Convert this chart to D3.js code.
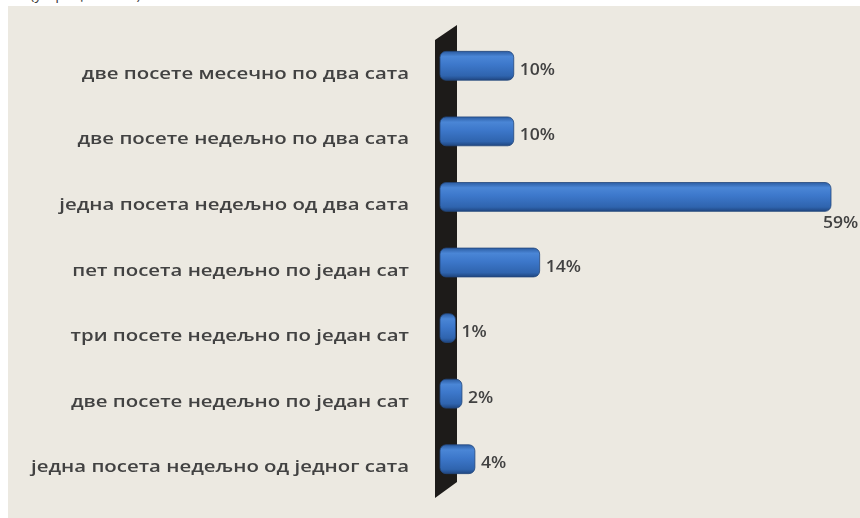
<!DOCTYPE html>
<html>
<head>
<meta charset="utf-8">
<script src="https://cdn.jsdelivr.net/npm/d3@7"></script>
<style>
  html, body { margin: 0; padding: 0; background: #fff; overflow: hidden; }
  text { font-family: "Open Sans", "Noto Sans", sans-serif; }
</style>
</head>
<body>
<div id="chart"></div>
<script>
// categories, top to bottom
var categories = [
  "две посете месечно по два сата",
  "две посете недељно по два сата",
  "једна посета недељно од два сата",
  "пет посета недељно по један сат",
  "три посете недељно по један сат",
  "две посете недељно по један сат",
  "једна посета недељно од једног сата"
];
var values = [10, 10, 59, 14, 1, 2, 4];
var valueLabels = ["10%", "10%", "59%", "14%", "1%", "2%", "4%"];

var width = 860, height = 518;

var svg = d3.select("#chart")
  .append("svg")
    .attr("width", width)
    .attr("height", height);

var defs = svg.append("defs");
var grad = defs.append("linearGradient")
  .attr("id", "barGrad")
  .attr("x1", 0).attr("y1", 0).attr("x2", 0).attr("y2", 1);
grad.append("stop").attr("offset", "0%").attr("stop-color", "#2c5da3");
grad.append("stop").attr("offset", "18%").attr("stop-color", "#4a86d6");
grad.append("stop").attr("offset", "45%").attr("stop-color", "#3d78cb");
grad.append("stop").attr("offset", "85%").attr("stop-color", "#2f64ae");
grad.append("stop").attr("offset", "100%").attr("stop-color", "#1f4680");

var blur = defs.append("filter").attr("id", "soft");
blur.append("feGaussianBlur").attr("stdDeviation", 0.35);

// background panel
svg.append("rect")
  .attr("x", 8).attr("y", 6)
  .attr("width", width - 8).attr("height", height - 6)
  .attr("fill", "#ece9e1");

// title line above, cut off at the top edge like the reference
svg.append("text")
  .attr("x", 30).attr("y", -1)
  .attr("font-size", 15)
  .attr("fill", "#444")
  .text("(у процентима)");

var y = d3.scaleBand()
  .domain(categories)
  .range([33, 492])
  .paddingInner(0.56)
  .paddingOuter(0.28);

var x = d3.scaleLinear()
  .domain([0, 59])
  .range([449, 831]);

// dark 3D wall behind the bars
svg.append("path")
  .attr("d", "M435,40 L457,25 L457,482 L435,498 Z")
  .attr("fill", "#1d1b19");

svg.selectAll(".bar")
  .data(values)
  .enter()
  .append("rect")
    .attr("class", "bar")
    .attr("x", 440)
    .attr("y", function(d, i) { return y(categories[i]); })
    .attr("width", function(d) { return x(d) - 440; })
    .attr("height", y.bandwidth())
    .attr("rx", 6)
    .attr("fill", "url(#barGrad)")
    .attr("stroke", "#23487c")
    .attr("stroke-width", 0.8);

// category labels
svg.selectAll(".cat")
  .data(categories)
  .enter()
  .append("text")
    .attr("class", "cat")
    .attr("text-anchor", "end")
    .attr("transform", function(d) {
      return "translate(409," + (y(d) + y.bandwidth() / 2 + 13) + ") scale(1.2,1)";
    })
    .attr("font-size", 17)
    .attr("font-weight", 600)
    .attr("fill", "#424242")
    .attr("filter", "url(#soft)")
    .text(function(d) { return d; });

// value labels
var maxV = d3.max(values);
svg.selectAll(".val")
  .data(values)
  .enter()
  .append("text")
    .attr("class", "val")
    .attr("transform", function(d, i) {
      var cy = y(categories[i]) + y.bandwidth() / 2;
      if (d === maxV) return "translate(" + (x(d) - 8) + "," + (cy + 31) + ") scale(1.1,1)";
      return "translate(" + (x(d) + 6) + "," + (cy + 9) + ") scale(1.1,1)";
    })
    .attr("font-size", 16)
    .attr("font-weight", 600)
    .attr("fill", "#424242")
    .attr("filter", "url(#soft)")
    .text(function(d, i) { return valueLabels[i]; });
</script>
</body>
</html>
